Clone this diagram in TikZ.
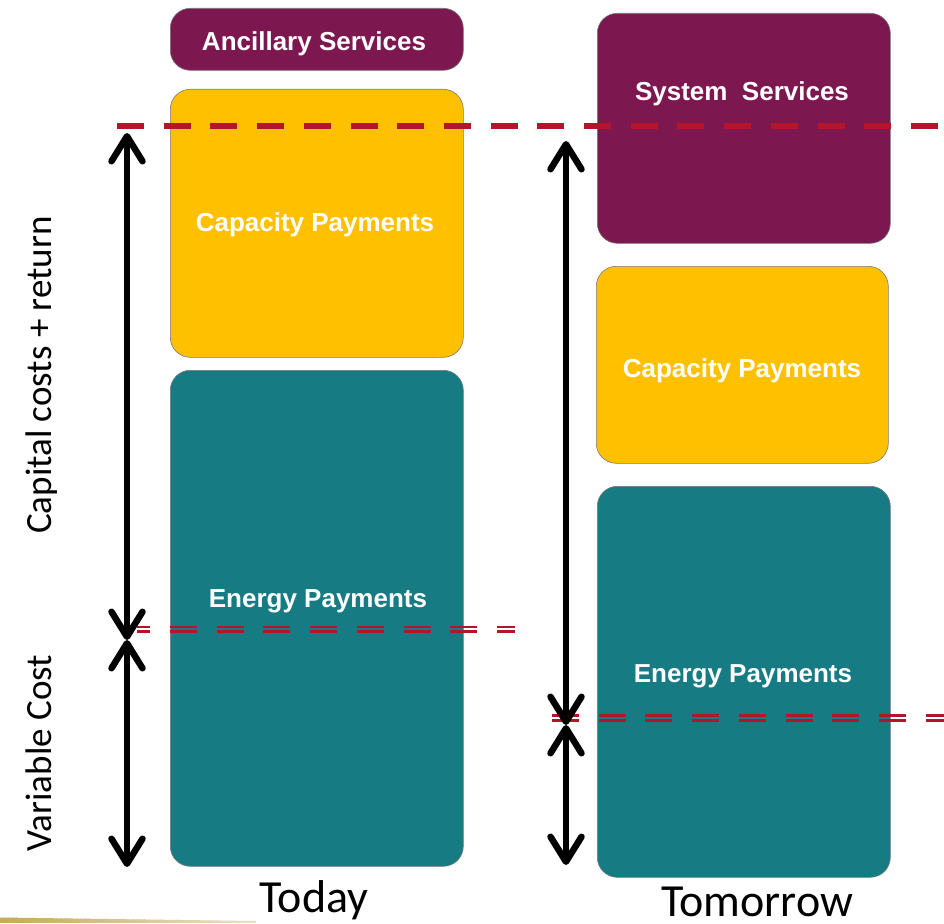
\documentclass[tikz,border=0pt]{standalone}
\usepackage{fontspec}
\setmainfont{Carlito}
\newfontfamily\boxfont{Liberation Sans}
\usetikzlibrary{arrows.meta}
\definecolor{plum}{RGB}{125,23,80}
\definecolor{goldbox}{RGB}{255,192,0}
\definecolor{tealbox}{RGB}{23,123,131}
\definecolor{dashred}{RGB}{180,21,43}
\definecolor{barkhaki}{RGB}{196,172,90}
\definecolor{boxedge}{RGB}{120,120,120}
\begin{document}
\begin{tikzpicture}[x=1pt,y=-1pt,
  box/.style={draw=boxedge, line width=0.6pt, rounded corners=20pt, inner sep=0pt, anchor=north west},
  lbl/.style={font=\boxfont\bfseries\fontsize{26}{30}\selectfont, text=white, anchor=base, inner sep=0pt},
  side/.style={font=\fontsize{37}{44}\selectfont, rotate=90, anchor=base, inner sep=0pt},
  bottomlbl/.style={font=\fontsize{46}{54}\selectfont, anchor=base, inner sep=0pt},
  bigdash/.style={dashred, line width=6pt, dash pattern=on 27pt off 19.7pt},
  thindash/.style={dashred, line width=2.5pt, dash pattern=on 27pt off 19.7pt},
  meas/.style={line width=6.5pt, line cap=round,
    {Straight Barb[length=25pt,width=31pt,line cap=round,line join=round]}-{Straight Barb[length=25pt,width=31pt,line cap=round,line join=round]}}
]
\useasboundingbox (0,0) rectangle (944,923);

% boxes
\node[box, fill=plum,    minimum width=293pt, minimum height=62pt]  (anc)  at (170,8)   {};
\node[box, fill=goldbox, minimum width=293pt, minimum height=268pt] (capL) at (170,89)  {};
\node[box, fill=tealbox, minimum width=293pt, minimum height=496pt] (engL) at (170,370) {};
\node[box, fill=plum,    minimum width=293pt, minimum height=230pt] (sys)  at (597,13)  {};
\node[box, fill=goldbox, minimum width=292pt, minimum height=197pt] (capR) at (596,266) {};
\node[box, fill=tealbox, minimum width=293pt, minimum height=391pt] (engR) at (597,486) {};

% box labels
\node[lbl] (tanc)  at (314,51)  {Ancillary Services};
\node[lbl] (tcapL) at (315,231) {Capacity Payments};
\node[lbl] (tengL) at (318,607) {Energy Payments};
\node[lbl] (tsys)  at (742,101) {System~~Services};
\node[lbl] (tcapR) at (742,377) {Capacity Payments};
\node[lbl] (tengR) at (743,682) {Energy Payments};

% red dashed top line
\coordinate (r0) at (117,126);
\coordinate (r1) at (944,126);
\draw[bigdash] (r0) -- (r1);

% double dashed lines
\coordinate (dl0) at (137,629.3);
\coordinate (dl1) at (515,629.3);
\draw[thindash, dash phase=13.7pt] ([yshift=2.3pt]dl0) -- ([yshift=2.3pt]dl1);
\draw[thindash, dash phase=13.7pt] ([yshift=-2.3pt]dl0) -- ([yshift=-2.3pt]dl1);
\coordinate (dr0) at (552,718);
\coordinate (dr1) at (944,718);
\draw[thindash] ([yshift=2.3pt]dr0) -- ([yshift=2.3pt]dr1);
\draw[thindash] ([yshift=-2.3pt]dr0) -- ([yshift=-2.3pt]dr1);

% measurement arrows
\coordinate (aLt) at (127,133);
\coordinate (aLm) at (127,640);
\coordinate (aLb) at (127,867);
\coordinate (aRt) at (566,141);
\coordinate (aRm) at (566,725);
\coordinate (aRb) at (566,865);
\draw[meas] (aLt) -- (aLm);
\draw[meas] (aLm) -- (aLb);
\draw[meas] (aRt) -- (aRm);
\draw[meas] (aRm) -- (aRb);

% side labels
\node[side] (lcap) at (51,375) {Capital costs + return};
\node[side] (lvar) at (51,753) {Variable Cost};

% bottom labels
\node[bottomlbl] (today) at (314,912) {Today};
\node[bottomlbl] (tomorrow) at (757,916.5) {Tomorrow};

% bottom gold bar (tapered, fading to the right)
\begin{scope}
\clip (0,917.5) -- (256,921) -- (256,923) -- (0,923) -- cycle;
\foreach \i in {0,...,63} {
  \pgfmathtruncatemacro{\pct}{100-\i}
  \fill[barkhaki!\pct!white] (\i*4,917) rectangle (\i*4+4.6,923);
}
\end{scope}
\end{tikzpicture}
\end{document}
